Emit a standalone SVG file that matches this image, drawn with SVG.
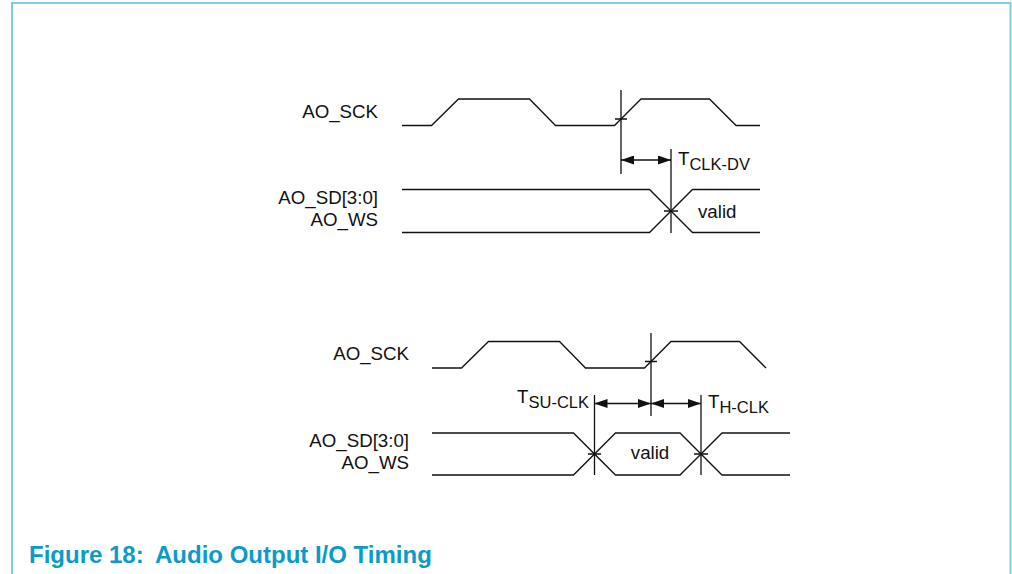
<svg xmlns="http://www.w3.org/2000/svg" width="1012" height="574" viewBox="0 0 1012 574">
<style>
.w{fill:none;stroke:#111;stroke-width:1.3}
.t{font-family:"Liberation Sans",Arial,sans-serif;font-size:18.7px;fill:#111}
.s{font-size:16.5px}
.cap{font-family:"Liberation Sans",Arial,sans-serif;font-size:24px;font-weight:bold;fill:#0b9bc9}
</style>
<defs>
<marker id="ah" viewBox="0 0 13 9" refX="13" refY="4.5" markerWidth="13" markerHeight="9" markerUnits="userSpaceOnUse" orient="auto-start-reverse">
<path d="M0,0 L13,4.5 L0,9 Z" fill="#111"/>
</marker>
</defs>
<rect width="1012" height="574" fill="#fff"/>
<path d="M12,574 V3 H1010.5 V574" fill="none" stroke="#7ccfe0" stroke-width="2"/>

<g id="top-diagram">
<g id="top-labels">
<text class="t" x="378" y="118" text-anchor="end">AO_SCK</text>
<text class="t" x="378" y="204" text-anchor="end">AO_SD[3:0]</text>
<text class="t" x="378" y="226" text-anchor="end">AO_WS</text>
<text class="t" x="698" y="218">valid</text>
<text class="t" x="678" y="165">T<tspan class="s" dy="5">CLK-DV</tspan></text>
</g>
<g id="top-waves">
<path class="w" d="M402,125.5 H431.5 L458.5,99 H529.5 L555.5,125.5 H614.5 L641,99 H709.5 L736,125.5 H760"/>
<path class="w" d="M402,189.5 H649.5 L692.5,232.5 H760"/>
<path class="w" d="M402,232.5 H649.5 L692.5,189.5 H760"/>
</g>
<g id="top-connectors">
<path class="w" d="M621,90 V174 M615,119 H627 M671,149 V233 M664,211 H678"/>
<path class="w" d="M621,160 H671" marker-start="url(#ah)" marker-end="url(#ah)"/>
</g>
</g>

<g id="bottom-diagram">
<g id="bottom-labels">
<text class="t" x="409" y="360" text-anchor="end">AO_SCK</text>
<text class="t" x="409" y="447" text-anchor="end">AO_SD[3:0]</text>
<text class="t" x="409" y="469" text-anchor="end">AO_WS</text>
<text class="t" x="650" y="459" text-anchor="middle">valid</text>
<text class="t" x="589" y="403" text-anchor="end">T<tspan class="s" dy="5">SU-CLK</tspan></text>
<text class="t" x="708" y="408">T<tspan class="s" dy="5">H-CLK</tspan></text>
</g>
<g id="bottom-waves">
<path class="w" d="M432,368 H461.5 L488.5,341.5 H559.5 L585.5,368 H644.5 L671,341.5 H739.5 L766,368"/>
<path class="w" d="M432,433 H573.5 L615.5,475 H680 L722,433 H790"/>
<path class="w" d="M432,475 H573.5 L615.5,433 H680 L722,475 H790"/>
</g>
<g id="bottom-connectors">
<path class="w" d="M651,333 V416 M645,361.5 H657 M594.5,395 V475 M701,395 V475 M588,454 H601 M694,454 H708"/>
<path class="w" d="M594.5,403.5 H651" marker-start="url(#ah)" marker-end="url(#ah)"/>
<path class="w" d="M651,403.5 H701" marker-start="url(#ah)" marker-end="url(#ah)"/>
</g>
</g>

<text class="cap" x="29" y="563">Figure 18:<tspan x="155">Audio Output I/O Timing</tspan></text>
</svg>
